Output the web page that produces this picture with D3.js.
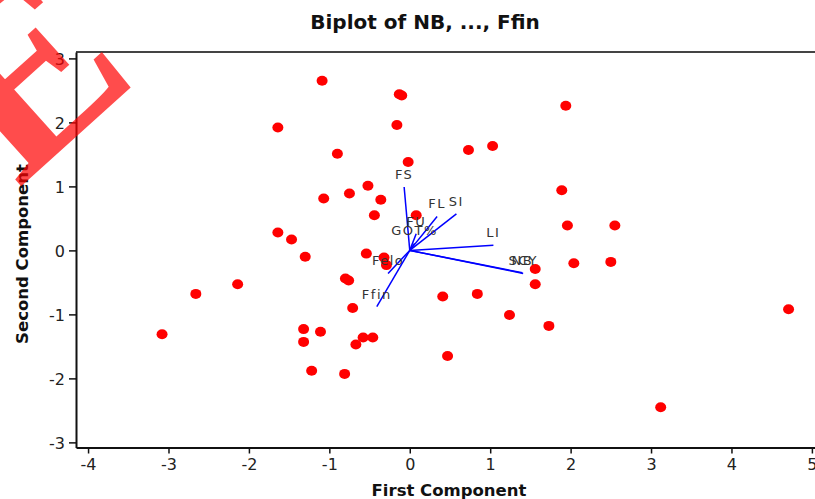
<!DOCTYPE html>
<html>
<head>
<meta charset="utf-8">
<script src="https://cdn.jsdelivr.net/npm/d3@7"></script>
<style>
  body { margin: 0; background: #fff; }
  svg { display: block; }
  .tick text { font-family: "DejaVu Sans", sans-serif; font-size: 16px; fill: #222; }
</style>
</head>
<body>
<svg id="chart"></svg>
<script>
// scores (first, second component)
var scoreX = [-1.09, -0.13, -0.10, 1.94, -1.64, -0.16, 1.03, 0.73, -0.90, -0.02,
  1.89, -0.52, -0.75, -1.07, -0.36, -0.44, 0.08, 1.96, 2.55, -1.64,
  -1.47, -0.54, -0.32, -0.29, -1.30, 1.56, 2.04, 2.50, -2.14, -2.66,
  -0.80, -0.76, 1.56, 0.84, 0.41, -0.71, 4.71, 1.24, 1.73, -3.08,
  -1.32, -1.11, -1.32, -0.58, -0.46, -0.67, -1.22, -0.81, 3.12, 0.47];
var scoreY = [2.65, 2.44, 2.42, 2.26, 1.92, 1.96, 1.63, 1.57, 1.51, 1.38,
  0.94, 1.01, 0.89, 0.81, 0.79, 0.55, 0.55, 0.39, 0.39, 0.28,
  0.17, -0.05, -0.11, -0.23, -0.10, -0.29, -0.20, -0.18, -0.53, -0.68,
  -0.44, -0.47, -0.53, -0.68, -0.72, -0.90, -0.92, -1.01, -1.18, -1.31,
  -1.23, -1.27, -1.43, -1.36, -1.36, -1.47, -1.88, -1.93, -2.45, -1.65];

// loadings
var varNames = ["FS", "FL", "SI", "FU", "GOT%", "LI", "NB", "SCY", "Felo", "Ffin"];
var loadX = [-0.07, 0.34, 0.58, 0.08, 0.06, 1.04, 1.40, 1.41, -0.27, -0.41];
var loadY = [0.99, 0.53, 0.57, 0.26, 0.11, 0.08, -0.35, -0.36, -0.36, -0.88];

var xTicks = [-4, -3, -2, -1, 0, 1, 2, 3, 4, 5];
var yTicks = [-3, -2, -1, 0, 1, 2, 3];

var width = 815, height = 499;
var mLeft = 76, mTop = 52, mBottom = 447.5, mRight = 832;

var svg = d3.select("#chart").attr("width", width).attr("height", height);

var x = d3.scaleLinear().domain([-4.15, 5.25]).range([mLeft, mRight]);
var y = d3.scaleLinear().domain([-3.08, 3.1]).range([mBottom, mTop]);

// frame top
svg.append("line").attr("x1", mLeft).attr("x2", mRight).attr("y1", mTop).attr("y2", mTop)
  .attr("stroke", "#444").attr("stroke-width", 2);

// axes
var xAxis = svg.append("g").attr("transform", "translate(0," + mBottom + ")")
  .call(d3.axisBottom(x).tickValues(xTicks).tickSizeInner(6).tickSizeOuter(0).tickPadding(5).tickFormat(d3.format("d")));
var yAxis = svg.append("g").attr("transform", "translate(" + mLeft + ",0)")
  .call(d3.axisLeft(y).tickValues(yTicks).tickSizeInner(7).tickSizeOuter(0).tickPadding(4).tickFormat(d3.format("d")));

[xAxis, yAxis].forEach(function(a) {
  a.select(".domain").attr("stroke", "#111").attr("stroke-width", 2);
  a.selectAll(".tick line").attr("stroke", "#111").attr("stroke-width", 1.5);
  a.selectAll(".tick text").text(function(d) { return d < 0 ? "-" + Math.abs(d) : d; });
});
yAxis.selectAll(".tick text").attr("dy", "0.36em");

// points
svg.append("g").selectAll("ellipse").data(scoreX).enter().append("ellipse")
  .attr("cx", function(d) { return x(d); })
  .attr("cy", function(d, i) { return y(scoreY[i]); })
  .attr("rx", 5.5).attr("ry", 5)
  .attr("fill", "#ff0000");

// loading vectors
var vg = svg.append("g");
varNames.forEach(function(n, i) {
  vg.append("line")
    .attr("x1", x(0)).attr("y1", y(0))
    .attr("x2", x(loadX[i])).attr("y2", y(loadY[i]))
    .attr("stroke", "#0000ff").attr("stroke-width", 1.5);
  vg.append("text")
    .attr("x", x(loadX[i])).attr("y", y(loadY[i]) - 8)
    .attr("text-anchor", "middle")
    .attr("font-family", "DejaVu Sans, sans-serif")
    .attr("font-size", 13).attr("letter-spacing", 1.5)
    .attr("fill", "#333")
    .text(n);
});

// titles
svg.append("text").attr("x", 425).attr("y", 29).attr("text-anchor", "middle")
  .attr("font-family", "DejaVu Sans, sans-serif").attr("font-weight", "bold")
  .attr("font-size", 20).attr("fill", "#111").text("Biplot of NB, ..., Ffin");

svg.append("text").attr("x", 449).attr("y", 496).attr("text-anchor", "middle")
  .attr("font-family", "DejaVu Sans, sans-serif").attr("font-weight", "bold")
  .attr("font-size", 16.5).attr("fill", "#111").text("First Component");

svg.append("text").attr("transform", "translate(28,254) rotate(-90)").attr("text-anchor", "middle")
  .attr("font-family", "DejaVu Sans, sans-serif").attr("font-weight", "bold")
  .attr("font-size", 16.5).attr("fill", "#111").text("Second Component");

// watermark
svg.append("text").attr("transform", "translate(18,189) rotate(-42)")
  .attr("font-family", "'Liberation Serif', serif").attr("font-weight", "bold").attr("font-size", 250)
  .attr("fill", "#ff0000").attr("fill-opacity", 0.7).text("E");
</script>
</body>
</html>
